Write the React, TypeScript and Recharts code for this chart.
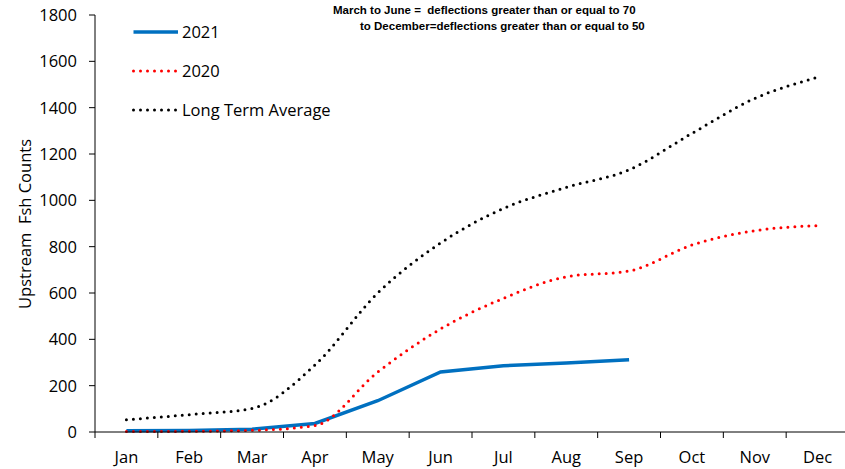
import React from "react"
import { LineChart, Line, XAxis, YAxis } from "recharts"

if (typeof document !== "undefined") document.body.style.margin = "0"

const months = ["Jan", "Feb", "Mar", "Apr", "May", "Jun", "Jul", "Aug", "Sep", "Oct", "Nov", "Dec"]
const counts2021 = [5, 7, 12, 37, 135, 259, 286, 298, 312, null, null, null]
const counts2020 = [2, 3, 7, 28, 259, 445, 577, 670, 695, 807, 869, 891]
const longTermAvg = [53, 75, 102, 289, 600, 816, 965, 1056, 1132, 1289, 1440, 1531]
const yTicks = [0, 200, 400, 600, 800, 1000, 1200, 1400, 1600, 1800]

const W = 845
const H = 469
const M = { top: 15, right: -4, left: 0, bottom: 0 }
const Y_W = 95
const band = (W - M.left - M.right - Y_W) / months.length
const font = "'Open Sans', sans-serif"
const fs = 16.5

const chartData = months.map((m, i) => ({
  month: m,
  y2021: counts2021[i],
  y2020: counts2020[i],
  lta: longTermAvg[i],
}))

const series = [
  { key: "y2021", name: "2021", color: "#0070C0", width: 3.5, dash: undefined, curve: "linear" },
  { key: "y2020", name: "2020", color: "#FF0000", width: 3, dash: "0 7", curve: "monotone" },
  { key: "lta", name: "Long Term Average", color: "#000000", width: 3, dash: "0 7", curve: "monotone" },
]

// month label in the middle, tick mark on the band boundary (Excel style)
const MonthTick = (props: any) => {
  const { x, y, payload } = props
  const bx = x - band / 2
  return (
    <g>
      <line x1={bx} x2={bx} y1={y} y2={y + 6} stroke="#000" />
      <text x={x} y={y + 31} textAnchor="middle" fontSize={fs} fontFamily={font} fill="#000">
        {payload.value}
      </text>
    </g>
  )
}

const LegendBox = () => (
  <div style={{ position: "absolute", left: 132, top: 12, fontFamily: font, fontSize: fs, color: "#000" }}>
    {series.map((s) => (
      <div key={s.key} style={{ display: "flex", alignItems: "center", height: 39 }}>
        <svg width={48} height={10}>
          <line
            x1={1.5}
            x2={46}
            y1={5}
            y2={5}
            stroke={s.color}
            strokeWidth={s.width}
            strokeDasharray={s.dash}
            strokeLinecap={s.dash ? "round" : "butt"}
          />
        </svg>
        <span style={{ marginLeft: 2 }}>{s.name}</span>
      </div>
    ))}
  </div>
)

export default function App() {
  return (
    <div style={{ position: "relative", width: W, height: H, background: "#fff", overflow: "hidden" }}>
      <LineChart width={W} height={H} data={chartData} margin={M}>
        <XAxis
          dataKey="month"
          height={37}
          tickSize={0}
          tickMargin={0}
          tick={<MonthTick />}
          axisLine={{ stroke: "#000" }}
          interval={0}
          padding={{ left: band / 2, right: band / 2 }}
        />
        <YAxis
          width={Y_W}
          domain={[0, 1800]}
          ticks={yTicks}
          interval={0}
          tickSize={6}
          tickMargin={12}
          axisLine={{ stroke: "#000" }}
          tickLine={{ stroke: "#000" }}
          tick={{ fontSize: fs, fontFamily: font, fill: "#000" }}
          label={{
            content: () => (
              <text
                x={24}
                y={224}
                transform="rotate(-90, 24, 224)"
                textAnchor="middle"
                dominantBaseline="central"
                fontSize={fs}
                fontFamily={font}
                fill="#000"
                style={{ whiteSpace: "pre" }}
              >
                Upstream  Fsh Counts
              </text>
            ),
          }}
        />
        {series.map((s) => (
          <Line
            key={s.key}
            type={s.curve as any}
            dataKey={s.key}
            name={s.name}
            stroke={s.color}
            strokeWidth={s.width}
            strokeDasharray={s.dash}
            strokeLinecap={s.dash ? "round" : "butt"}
            dot={false}
            activeDot={false}
            isAnimationActive={false}
          />
        ))}
      </LineChart>
      <LegendBox />
      <div
        style={{
          position: "absolute",
          top: 2,
          left: 300,
          width: 440,
          fontFamily: "'Liberation Sans', Arial, sans-serif",
          fontWeight: "bold",
          fontSize: 11.5,
          lineHeight: "16px",
          color: "#000",
        }}
      >
        <div style={{ paddingLeft: 33, whiteSpace: "pre" }}>March to June =  deflections greater than or equal to 70</div>
        <div style={{ paddingLeft: 60 }}>to December=deflections greater than or equal to 50</div>
      </div>
    </div>
  )
}
